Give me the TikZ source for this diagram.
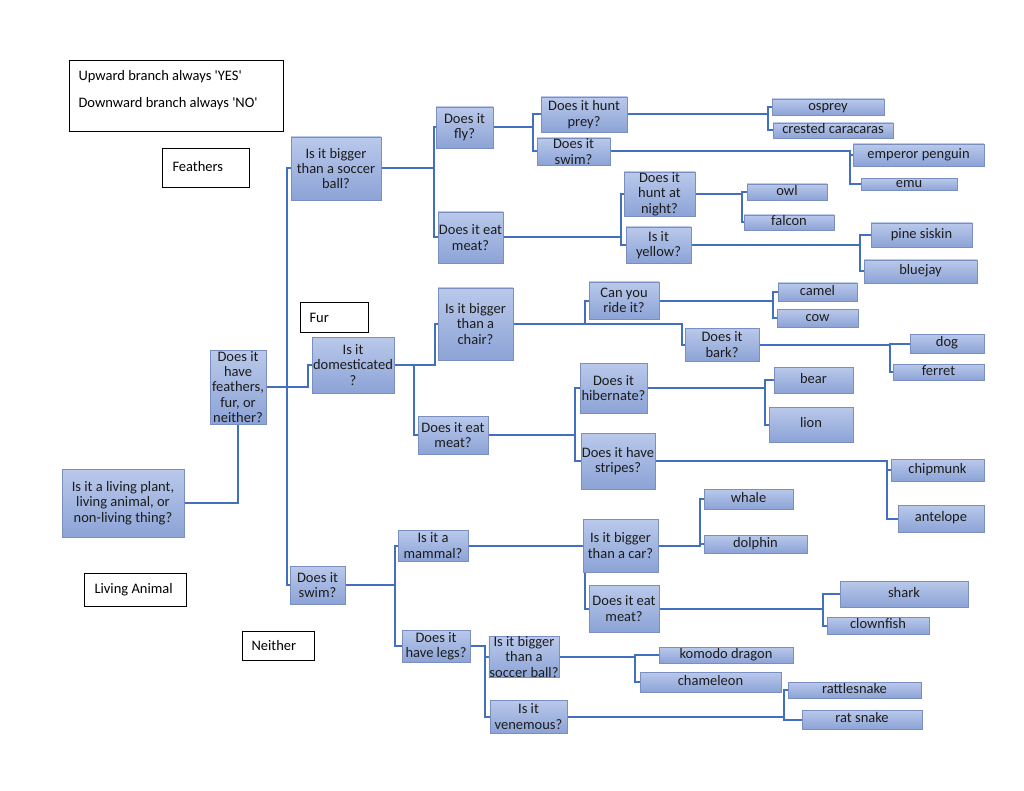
\documentclass[tikz,border=0pt]{standalone}
\usepackage{fontspec}
\setmainfont{Carlito}
\pgfdeclarelayer{bg}
\pgfsetlayers{bg,main}
\definecolor{boxtop}{RGB}{186,201,235}
\definecolor{boxbot}{RGB}{140,163,214}
\definecolor{boxline}{RGB}{122,143,192}
\definecolor{conncol}{RGB}{66,112,190}
\definecolor{txt}{RGB}{28,28,28}
\tikzset{
 qbox/.style={rectangle, draw=boxline, line width=0.9pt, top color=boxtop, bottom color=boxbot, align=center, inner sep=0.5pt, text=txt, font=\fontsize{14.5}{15.3}\selectfont},
 lf/.style={qbox, text height=9pt, text depth=2.5pt},
 lbox/.style={rectangle, draw=black, line width=1pt, fill=white, inner xsep=9pt, inner ysep=0pt, anchor=north west, text=black, font=\fontsize{14.5}{15.3}\selectfont},
 conn/.style={draw=conncol, line width=2pt},
}
\newcommand\bxq[7][qbox]{\node[#1, minimum width={(#5-#3)*1pt}, minimum height={(#6-#4)*1pt}] (#2) at ({(#3+#5)/2},{(#4+#6)/2}) {#7};}
\begin{document}
\begin{tikzpicture}[x=1pt,y=-1pt]
\useasboundingbox (0,0) rectangle (1024,791);
% legend boxes
\node[lbox, minimum width=214pt, minimum height=71pt] (legend) at (69,60)
 {\raisebox{6pt}[\height][\depth]{\parbox{196pt}{Upward branch always \textquotesingle YES\textquotesingle\\[12pt]Downward branch always \textquotesingle NO\textquotesingle}}};
\node[lbox, minimum width=87pt, minimum height=39pt, inner xsep=10pt] (feathers) at (162,148) {\raisebox{3pt}{\makebox[67pt][l]{Feathers}}};
\node[lbox, minimum width=68pt, minimum height=30pt] (fur) at (300,302) {\makebox[50pt][l]{Fur}};
\node[lbox, minimum width=102pt, minimum height=33pt, inner xsep=10pt] (livanimal) at (84,573) {\makebox[82pt][l]{Living Animal}};
\node[lbox, minimum width=72pt, minimum height=29pt] (neither) at (242,631) {\makebox[54pt][l]{Neither}};
% question boxes
\bxq{liv}{62}{469}{184}{537}{Is it a living plant,\\living animal, or\\non-living thing?}
\bxq{ffn}{210}{350}{266}{424}{Does it\\have\\feathers,\\fur, or\\neither?}
\bxq{soc}{291}{137}{381}{200}{Is it bigger\\than a soccer\\ball?}
\bxq{fly}{436}{107}{493}{148}{Does it\\fly?}
\bxq{meat1}{438}{212}{503}{263}{Does it eat\\meat?}
\bxq{prey}{541}{97}{627}{132}{Does it hunt\\prey?}
\bxq{swim1}{537}{138}{610}{165}{Does it\\swim?}
\bxq{night}{624}{173}{695}{215}{Does it\\hunt at\\night?}
\bxq{yellow}{626}{227}{691}{263}{Is it\\yellow?}
\bxq{dom}{312}{337}{394}{393}{Is it\\domesticated\\?}
\bxq{chair}{438}{288}{513}{360}{Is it bigger\\than a\\chair?}
\bxq{meat2}{418}{416}{488}{454}{Does it eat\\meat?}
\bxq{ride}{589}{282}{659}{319}{Can you\\ride it?}
\bxq{bark}{685}{328}{759}{361}{Does it\\bark?}
\bxq{hib}{580}{363}{647}{413}{Does it\\hibernate?}
\bxq{stripes}{581}{433}{655}{489}{Does it have\\stripes?}
\bxq{swim2}{290}{566}{345}{604}{Does it\\swim?}
\bxq{mammal}{398}{530}{468}{561}{Is it a\\mammal?}
\bxq{legs}{402}{630}{470}{662}{Does it\\have legs?}
\bxq{car}{583}{519}{658}{572}{Is it bigger\\than a car?}
\bxq{meat3}{589}{585}{659}{632}{Does it eat\\meat?}
\bxq{soc2}{489}{637}{559}{677}{Is it bigger\\than a\\soccer ball?}
\bxq{venom}{490}{700}{567}{733}{Is it\\venemous?}
% leaves
\bxq[lf]{osprey}{772}{99}{884}{115}{osprey}
\bxq[lf]{crest}{773}{123}{893}{138}{crested caracaras}
\bxq[lf]{emp}{853}{144}{984}{166}{emperor penguin}
\bxq[lf]{emu}{861}{179}{957}{190}{emu}
\bxq[lf]{owl}{747}{184}{827}{200}{owl}
\bxq[lf]{falcon}{744}{215}{834}{230}{falcon}
\bxq[lf]{pine}{871}{223}{972}{247}{pine siskin}
\bxq[lf]{bluejay}{864}{260}{977}{283}{bluejay}
\bxq[lf]{camel}{778}{283}{857}{301}{camel}
\bxq[lf]{cow}{777}{309}{858}{327}{cow}
\bxq[lf]{dog}{910}{334}{984}{353}{dog}
\bxq[lf]{ferret}{893}{364}{984}{380}{ferret}
\bxq[lf]{bear}{774}{367}{853}{393}{bear}
\bxq[lf]{lion}{769}{407}{853}{442}{lion}
\bxq[lf]{chip}{891}{459}{984}{481}{chipmunk}
\bxq[lf]{ante}{898}{505}{984}{532}{antelope}
\bxq[lf]{whale}{704}{489}{793}{509}{whale}
\bxq[lf]{dolphin}{704}{535}{807}{553}{dolphin}
\bxq[lf]{shark}{840}{581}{968}{607}{shark}
\bxq[lf]{clown}{827}{617}{929}{634}{clownfish}
\bxq[lf]{komodo}{659}{647}{793}{663}{komodo dragon}
\bxq[lf]{cham}{640}{672}{781}{692}{chameleon}
\bxq[lf]{rattle}{788}{682}{921}{698}{rattlesnake}
\bxq[lf]{ratsn}{802}{710}{922}{729}{rat snake}
\begin{pgfonlayer}{bg}
\fill[white] (0,0) rectangle (1024,791);
\draw[conn] (soc.west) -- ++(-4,0) |- (swim2.west);
\draw[conn] (ffn.east) -- ++(42,0) |- (dom.west);
\draw[conn] (liv.east) -| (ffn.south);
\draw[conn] (soc.east) -- ++(53,0) |- (fly.west);
\draw[conn] (soc.east) -- ++(53,0) |- (meat1.west);
\draw[conn] (fly.east) -- ++(40,0) |- (prey.west);
\draw[conn] (fly.east) -- ++(40,0) |- (swim1.west);
\draw[conn] (prey.east) -- ++(141,0) |- (osprey.west);
\draw[conn] (prey.east) -- ++(141,0) |- (crest.west);
\draw[conn] (swim1.east) -- ++(240,0) |- (emp.west);
\draw[conn] (swim1.east) -- ++(240,0) |- (emu.west);
\draw[conn] (meat1.east) -- ++(118,0) |- (night.west);
\draw[conn] (meat1.east) -- ++(118,0) |- (yellow.west);
\draw[conn] (night.east) -- ++(47,0) |- (owl.west);
\draw[conn] (night.east) -- ++(47,0) |- (falcon.west);
\draw[conn] (yellow.east) -- ++(169,0) |- (pine.west);
\draw[conn] (yellow.east) -- ++(169,0) |- (bluejay.west);
\draw[conn] (dom.east) -- ++(41,0) |- (chair.west);
\draw[conn] (dom.east) -- ++(20,0) |- (meat2.west);
\draw[conn] (chair.east) -- ++(72,0) |- (ride.west);
\draw[conn] (chair.east) -- ++(169,0) |- (bark.west);
\draw[conn] (ride.east) -- ++(114,0) |- (camel.west);
\draw[conn] (ride.east) -- ++(114,0) |- (cow.west);
\draw[conn] (bark.east) -- ++(131,0) |- (dog.west);
\draw[conn] (bark.east) -- ++(131,0) |- (ferret.west);
\draw[conn] (meat2.east) -- ++(87,0) |- (hib.west);
\draw[conn] (meat2.east) -- ++(87,0) |- (stripes.west);
\draw[conn] (hib.east) -- ++(118,0) |- (bear.west);
\draw[conn] (hib.east) -- ++(118,0) |- (lion.west);
\draw[conn] (stripes.east) -- ++(232,0) |- (chip.west);
\draw[conn] (stripes.east) -- ++(232,0) |- (ante.west);
\draw[conn] (swim2.east) -- ++(50,0) |- (mammal.west);
\draw[conn] (swim2.east) -- ++(50,0) |- (legs.west);
\draw[conn] (mammal.east) -- (car.west);
\draw[conn] (mammal.east) -- ++(117,0) |- (meat3.west);
\draw[conn] (car.east) -- ++(42,0) |- (whale.west);
\draw[conn] (car.east) -- ++(42,0) |- (dolphin.west);
\draw[conn] (meat3.east) -- ++(164,0) |- (shark.west);
\draw[conn] (meat3.east) -- ++(164,0) |- (clown.west);
\draw[conn] (legs.east) -- ++(15,0) |- (soc2.west);
\draw[conn] (legs.east) -- ++(15,0) |- (venom.west);
\draw[conn] (soc2.east) -- ++(76,0) |- (komodo.west);
\draw[conn] (soc2.east) -- ++(76,0) |- (cham.west);
\draw[conn] (venom.east) -- ++(217,0) |- (rattle.west);
\draw[conn] (venom.east) -- ++(217,0) |- (ratsn.west);
\end{pgfonlayer}
\end{tikzpicture}
\end{document}
